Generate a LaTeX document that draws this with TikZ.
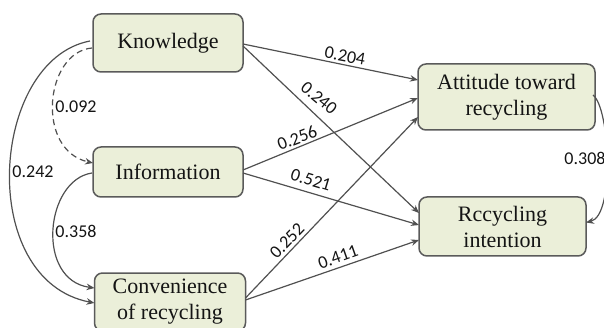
\documentclass[tikz,border=0pt]{standalone}
\usepackage{fontspec}
\setmainfont{Liberation Serif}
\newfontfamily\numfont{Carlito}
\usetikzlibrary{calc,arrows.meta}
\definecolor{boxfill}{HTML}{EBEFD9}
\definecolor{boxline}{HTML}{5A5A5A}
\definecolor{arr}{HTML}{505050}
\definecolor{txt}{HTML}{141414}
\begin{document}
\begin{tikzpicture}[x=1pt,y=-1pt,
  box/.style={draw=boxline,line width=1.5pt,fill=boxfill,rounded corners=8pt,
    inner sep=0pt,outer sep=0pt,align=center,text=txt,
    font=\fontsize{22}{26}\selectfont},
  conn/.style={draw=arr,line width=1.2pt,-{Stealth[length=8pt,width=6.5pt]}},
  lbl/.style={font=\numfont\fontsize{18}{20}\selectfont,text=txt,inner sep=0pt}]
\useasboundingbox (0,0) rectangle (604,328);
\node[box,minimum width=150pt,minimum height=58pt] (k) at (168,43) {Knowledge};
\node[box,minimum width=150pt,minimum height=50pt] (i) at (168,172) {Information};
\node[box,minimum width=151pt,minimum height=58pt] (c) at (170,302) {Convenience\\of recycling};
\node[box,minimum width=177pt,minimum height=66pt] (a) at (506.5,97) {Attitude toward\\recycling};
\node[box,minimum width=167pt,minimum height=59pt] (r) at (502.5,226.5) {Rccycling\\intention};
% straight paths
\draw[conn] ($(k.east)+(0,1)$) -- ($(a.west)+(0,-17)$);
\draw[conn] ($(k.east)+(0,3)$) -- ($(r.west)+(0,-13.5)$);
\draw[conn] ($(i.east)+(0,-2)$) -- ($(a.west)+(0,1)$);
\draw[conn] ($(i.east)+(0,1)$) -- ($(r.west)+(0,-1.5)$);
\draw[conn] ($(c.east)+(0,-4)$) -- ($(a.west)+(0,20)$);
\draw[conn] ($(c.east)+(0,-2)$) -- ($(r.west)+(0,13.5)$);
% curved paths
\draw[conn] ($(k.west)+(-3,-2)$) .. controls +(-100,19) and +(-119,-23) .. ($(c.west)+(0,1)$);
\draw[conn,dashed,dash pattern=on 6pt off 4pt] ($(k.west)+(-1,5)$) .. controls +(-47,4) and +(-58,-13) .. ($(i.west)+(0,-9)$);
\draw[conn] ($(i.west)+(-1,1)$) .. controls +(-47,7) and +(-59,-8) .. ($(c.west)+(0,-14)$);
\draw[conn] ($(a.east)+(-2,-2)$) .. controls +(17,13) and +(29,-7) .. ($(r.east)+(0,-4)$);
% labels
\node[lbl,rotate=-10.7] (l1) at (345,56) {0.204};
\node[lbl,rotate=-40] (l2) at (319,98) {0.240};
\node[lbl,rotate=21] (l3) at (297,138) {0.256};
\node[lbl,rotate=-16.8] (l4) at (311,180) {0.521};
\node[lbl,rotate=46] (l5) at (287,241) {0.252};
\node[lbl,rotate=19.4] (l6) at (338,257) {0.411};
\node[lbl] (l7) at (76,107) {0.092};
\node[lbl] (l8) at (33,172) {0.242};
\node[lbl] (l9) at (76,231) {0.358};
\node[lbl] (l10) at (585,158) {0.308};
\end{tikzpicture}
\end{document}
